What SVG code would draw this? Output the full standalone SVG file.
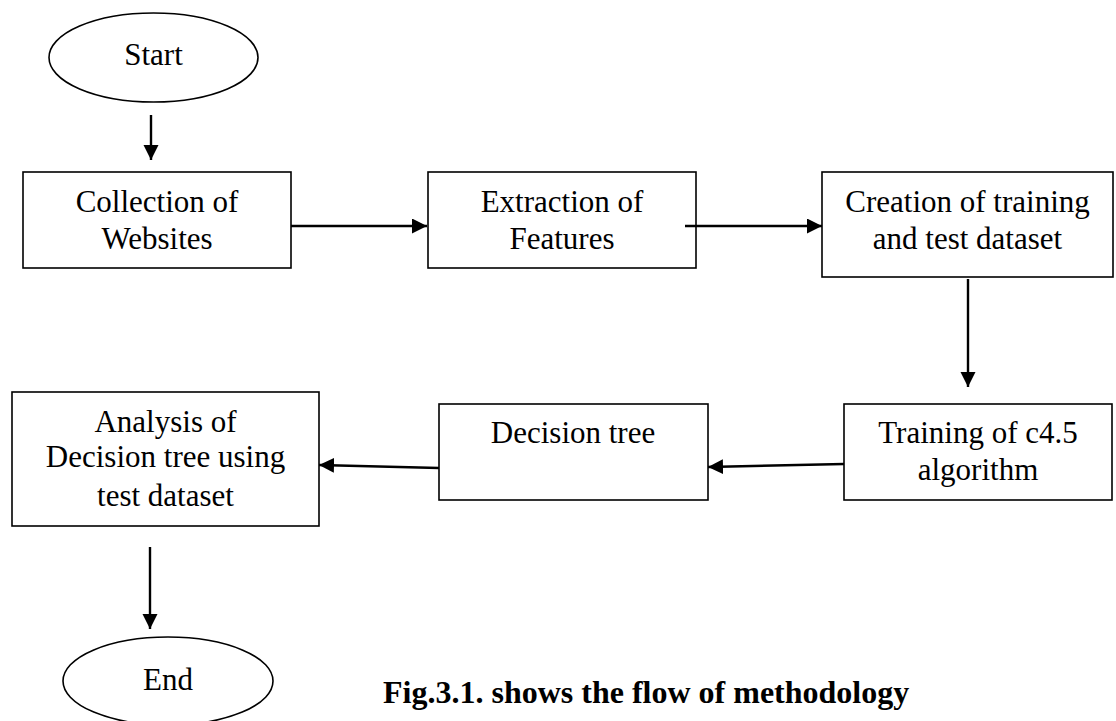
<svg xmlns="http://www.w3.org/2000/svg" width="1116" height="721" viewBox="0 0 1116 721">
<style>
.box{fill:#fff;stroke:#000;stroke-width:1.6}
.t{font-family:"Liberation Serif","Times New Roman",serif;font-size:31px;fill:#000;text-anchor:middle}
.cap{font-family:"Liberation Serif","Times New Roman",serif;font-size:32px;font-weight:bold;fill:#000}
.c{fill:none;stroke:#000;stroke-width:2.4}
</style>
<defs>
<marker id="ah" markerUnits="userSpaceOnUse" markerWidth="16" markerHeight="16" refX="15" refY="7.5" orient="auto">
<path d="M0,0 L15,7.5 L0,15 z" fill="#000"/>
</marker>
</defs>
<rect width="1116" height="721" fill="#fff"/>
<g id="start"><ellipse class="box" cx="153.5" cy="57.5" rx="104.5" ry="44.5"/><text class="t" x="153.5" y="65">Start</text></g>
<g id="collection"><rect class="box" x="23" y="172" width="268" height="96"/><text class="t" x="157" y="212">Collection of</text><text class="t" x="157" y="249">Websites</text></g>
<g id="extraction"><rect class="box" x="428" y="172" width="268" height="96"/><text class="t" x="562" y="212">Extraction of</text><text class="t" x="562" y="249">Features</text></g>
<g id="creation"><rect class="box" x="822" y="172" width="291" height="105"/><text class="t" x="967.5" y="212">Creation of training</text><text class="t" x="967.5" y="249">and test dataset</text></g>
<g id="training"><rect class="box" x="844" y="404" width="268" height="96"/><text class="t" x="978" y="443">Training of c4.5</text><text class="t" x="978" y="480">algorithm</text></g>
<g id="decision"><rect class="box" x="439" y="404" width="269" height="96"/><text class="t" x="573" y="443">Decision tree</text></g>
<g id="analysis"><rect class="box" x="12" y="392" width="307" height="134"/><text class="t" x="165.5" y="432">Analysis of</text><text class="t" x="165.5" y="467">Decision tree using</text><text class="t" x="165.5" y="506">test dataset</text></g>
<g id="end"><ellipse class="box" cx="168" cy="681" rx="105" ry="44"/><text class="t" x="168" y="690">End</text></g>
<g id="connectors">
<line class="c" x1="151" y1="115" x2="151" y2="160" marker-end="url(#ah)"/>
<line class="c" x1="291" y1="226" x2="427" y2="226" marker-end="url(#ah)"/>
<line class="c" x1="685" y1="226" x2="822" y2="226" marker-end="url(#ah)"/>
<line class="c" x1="968" y1="279" x2="968" y2="387" marker-end="url(#ah)"/>
<line class="c" x1="844" y1="464" x2="708" y2="467" marker-end="url(#ah)"/>
<line class="c" x1="439" y1="468" x2="319" y2="465" marker-end="url(#ah)"/>
<line class="c" x1="150" y1="547" x2="150" y2="629" marker-end="url(#ah)"/>
</g>
<text class="cap" x="383" y="703">Fig.3.1. shows the flow of methodology</text>
</svg>
